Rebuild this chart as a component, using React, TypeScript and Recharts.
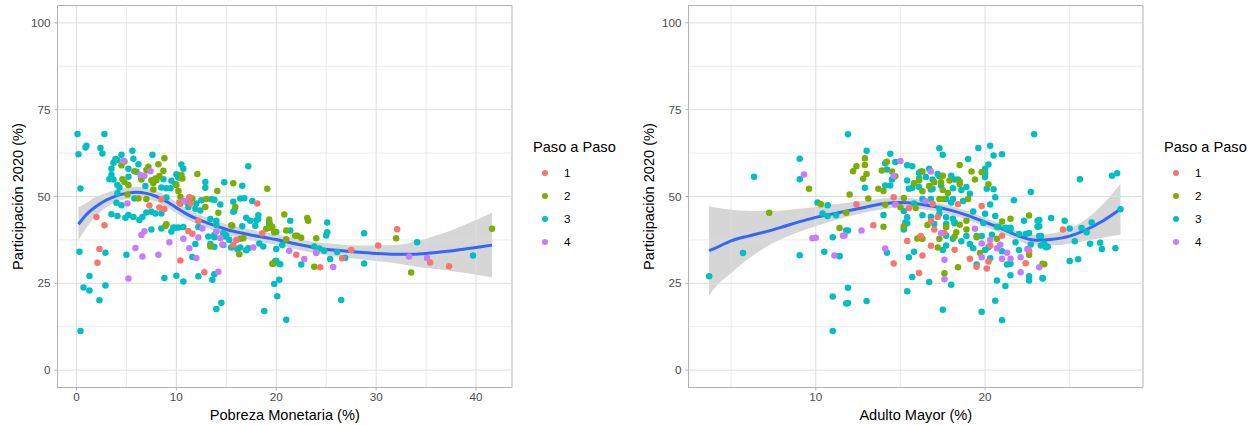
import { Area, ComposedChart, Line, ReferenceArea, ReferenceLine, Scatter, XAxis, YAxis } from "recharts";

type Pair = [number, number];

const PASOS = ["1", "2", "3", "4"];
const PASO_COLORS = ["#F8766D", "#7CAE00", "#00BFC4", "#C77CFF"];
const DRAW_ORDER = [2, 1, 0, 3];

const yTicks = [0, 25, 50, 75, 100];
const yMinor = [12.5, 37.5, 62.5, 87.5];

const pobrezaTicks = [0, 10, 20, 30, 40];
const pobrezaMinor = [5, 15, 25, 35];
const adultoTicks = [10, 20];
const adultoMinor = [5, 15, 25];

// Pobreza Monetaria panel: [x, participacion]
const pobrezaPaso1: Pair[] = [
  [2.3, 34.9], [2.1, 30.9], [10.4, 31.6], [12.8, 28.2], [11.2, 40.1], [11.6, 39.3], [15.7, 36], [16, 37.5], [18.6, 39.4],
  [2, 44.1], [2.8, 41.7], [7.3, 47.4], [8.3, 46.8], [8.8, 46.4], [8.5, 49.2], [11.3, 49.8], [11.4, 47.9], [10.3, 48.3],
  [18.1, 48], [12.2, 43], [22, 33.2], [24.4, 29.6], [26.6, 32.2], [27.5, 34.6], [30.2, 35.9], [32.1, 40.6], [35.4, 31], [37.3, 29.9],
];
const pobrezaPaso2: Pair[] = [
  [8.8, 61], [8.2, 59.3], [7.2, 58.6], [7, 57.6], [8.7, 57.4], [5.8, 57.3], [4.8, 60.1], [4.5, 59], [8.3, 55.9], [7.9, 55.2],
  [7.5, 54.7], [8, 54.7], [7.7, 53.9], [6.5, 54.9], [4.6, 55], [4.8, 54.2], [5.2, 53.3], [10.5, 56.2], [10.6, 55.2], [12.1, 56.5],
  [10, 53.3], [10.2, 51.6], [14.1, 51.6], [15.7, 53.8], [19.1, 52.2], [7.7, 52], [5.1, 50.6], [6.2, 49.4], [7, 49.3], [11.6, 49.4],
  [13, 49.3], [12.9, 47], [15.9, 47], [14.2, 45.3], [9, 42], [8.9, 41.5], [19.3, 43.4], [15.5, 41.7], [19.4, 41.7], [13.4, 35.6],
  [16.7, 38], [16.3, 33.4], [19.6, 30.6], [19, 40.7], [19.4, 41], [19.8, 39.7], [20.8, 44.8], [23.1, 43.8], [23.2, 43], [19.6, 41.3],
  [19.9, 39.8], [21.9, 38.7], [22.1, 38.7], [22.5, 38.1], [24, 38], [21, 37.7], [19.7, 30.6], [23.8, 29.8], [24, 33.7], [32, 38],
  [33.5, 28.1], [41.6, 40.7], [15.6, 41.6], [10.4, 49.9], [10.4, 48], [21, 40.2], [16.4, 37.8],
];
const pobrezaPaso3: Pair[] = [
  [0.1, 68], [2.8, 68], [0.2, 62.2], [0.9, 64.1], [1, 64.6], [2.4, 64], [2.6, 62.4], [4.5, 62], [5.6, 63.2], [7.6, 62],
  [3.9, 60.8], [4.1, 60.5], [3.7, 59.7], [5.7, 60.9], [6.2, 59.3], [10.5, 59.2], [10.7, 58], [3.5, 58], [5.2, 58], [17.2, 58.7],
  [0.4, 52.3], [3.5, 56.2], [3.3, 55], [3.7, 54.9], [4.3, 52.6], [4.1, 53.3], [5.2, 55.7], [6, 57.1], [6.5, 55.2], [6.9, 53],
  [8.7, 55], [9.5, 54.5], [10, 56.4], [10.2, 55.5], [9.9, 53.6], [8.5, 52.6], [9, 52.4], [9.4, 52.4], [12.9, 54.2], [12.9, 52.5],
  [14.8, 54.1], [16.6, 53.1], [15.7, 48.5], [16.4, 49.4], [16.8, 49.5], [17.6, 48.7], [15.8, 45.9], [15.7, 45.6], [14.4, 47.7], [13.5, 49.2],
  [13.8, 49.1], [12.5, 48.9], [12, 48], [11.9, 46.5], [12.4, 46], [11.2, 47], [11, 48.5], [4.1, 50.9], [9, 49.7], [5.8, 49.4],
  [4, 48.2], [4.5, 47.5], [3.5, 44.9], [4.1, 44.4], [4.9, 43.9], [5.2, 44.7], [5.7, 44.1], [6.3, 43.2], [6.6, 44.1], [7, 45.4],
  [7.5, 45.6], [7.9, 45.1], [8.5, 45.1], [13.4, 43.5], [14, 43], [18.2, 44.6], [17, 43.9], [17.4, 43], [18, 43.1], [16.6, 41.4],
  [9.7, 41.1], [10.2, 41.1], [10.7, 41.2], [12.2, 41.2], [7.5, 40.5], [0.3, 34.1], [2.9, 33.8], [5, 33.2], [8.5, 40.8], [9.5, 39.9],
  [9.9, 41], [13.2, 38.5], [13.4, 36.3], [13.8, 38.9], [13.8, 38.3], [13.8, 35.5], [14.7, 36], [14.9, 38.5], [15.3, 37.5], [15.5, 35.3],
  [16.1, 34.9], [16.4, 35.3], [17, 34.5], [17.2, 35.1], [18.3, 36.5], [18.7, 35.6], [20, 34.9], [11.6, 32.6], [11.9, 36.3], [8.8, 26.5],
  [10, 27.2], [10.7, 25.5], [12.2, 27], [13.8, 27.6], [13.6, 26], [14, 17.6], [14.5, 19.4], [18.8, 17], [0.4, 11.3], [1.3, 27.1],
  [0.7, 23.8], [1.3, 22.9], [2.9, 24.4], [2.3, 20.1], [20, 31.4], [20.3, 30.6], [19.8, 24.8], [20.3, 26], [20.1, 21.3], [21.4, 43],
  [21.4, 40.2], [20, 39.8], [25.1, 42.5], [25.1, 39.7], [25, 38.8], [28.8, 39.4], [34.1, 36.8], [39.7, 33], [28.8, 30.7], [20.6, 36],
  [23.8, 35.6], [24.3, 35], [24.8, 34.4], [26.1, 34], [25.4, 32], [26.9, 32.3], [22.5, 30.4], [20.4, 30.5], [19.9, 31.4], [21, 14.5],
  [26.5, 20.2], [14, 41.8], [17.9, 41.6], [19.3, 42.6], [19.3, 42], [14.7, 39.5], [15, 38.8], [18.2, 43.5],
];
const pobrezaPaso4: Pair[] = [
  [4.7, 60.3], [6.4, 56.2], [6.8, 56], [7.4, 57.3], [5.1, 48], [10.8, 48.7], [6.8, 40], [12.6, 40.8], [6.5, 38.9], [5.9, 35.2],
  [6.6, 32.7], [8.2, 33.2], [5.2, 26.4], [9.3, 36.8], [10.7, 37.8], [11.3, 35.1], [12, 32.3], [12.2, 38.2], [14, 39.9], [14.4, 38],
  [14.6, 36.2], [14.2, 28.3], [17.7, 35.3], [21.3, 34.4], [22.8, 32], [24, 33.8], [25.7, 29.7], [33.3, 32.7], [35.1, 32.3],
];

const pobrezaCurveX = [0.2, 1, 2, 3, 4, 5, 6, 7, 8, 9, 10, 11, 12, 13, 14, 15, 16, 17, 18, 19, 20, 22, 24, 26, 28, 30, 32, 34, 36, 38, 40, 41.6];
const pobrezaFit = [42, 44.8, 47.2, 49, 50.2, 50.9, 51.2, 50.9, 50, 48.6, 46.8, 45, 43.6, 42.5, 41.5, 40.5, 39.8, 39.2, 38.6, 38.1, 37.6, 36.3, 35.2, 34.5, 34, 33.6, 33.4, 33.4, 33.9, 34.5, 35.3, 36];
const pobrezaLo = [37.4, 41, 44.5, 46.9, 48.4, 49.3, 49.6, 49.3, 48.5, 47, 45.2, 43.5, 42.1, 41, 39.9, 39, 38.3, 37.7, 37.1, 36.6, 36.1, 34.8, 33.6, 32.7, 32.1, 31.4, 30.8, 29.8, 29.1, 28.3, 27.5, 26.7];
const pobrezaHi = [46.8, 48.2, 49.9, 51, 52, 52.5, 52.8, 52.5, 51.6, 50.2, 48.4, 46.6, 45.1, 44, 43, 42, 41.3, 40.7, 40.1, 39.6, 39.1, 37.8, 36.8, 36.3, 35.9, 35.9, 36, 37.1, 38.8, 40.8, 43.2, 45.4];

// Adulto Mayor panel
const adultoPaso1: Pair[] = [
  [12.4, 47.8], [14.6, 49.8], [15.5, 46.6], [16.9, 47.9], [18.4, 47.8], [19.8, 47.3], [17.2, 44.1], [16.8, 42.9], [13.4, 41.7], [17, 40.5],
  [15.4, 37.2], [16.2, 38.6], [16.8, 35.8], [16.3, 33], [14.6, 30.7], [16.1, 28], [18.2, 34.7], [19.1, 32.1], [19.5, 29.8], [20.1, 29.3],
  [20.2, 31.3], [20.3, 35.9], [22.4, 30.8], [17.6, 39.5], [22.6, 34.4], [21, 38.7], [24.6, 40.5],
];
const adultoPaso2: Pair[] = [
  [12.9, 61], [12.9, 59.1], [12.4, 58.7], [12.2, 57.3], [13, 56.5], [12.8, 55.1], [14.2, 60], [13.9, 57.5], [14.5, 57.2], [14.7, 55.8],
  [13.7, 52.2], [14, 51.6], [12, 50.6], [13.1, 49.4], [11.8, 45.3], [14.1, 47.6], [15.2, 49.6], [16.3, 57.2], [15.8, 53.8], [16.1, 54.6],
  [16.7, 53], [16.3, 51.5], [17, 54.1], [17.4, 54.1], [17.5, 56], [17.9, 54.6], [18.5, 59.1], [19.2, 57.2], [19.8, 57], [19.4, 54.9],
  [18.5, 54.3], [18.5, 53.6], [17.5, 51.9], [17.8, 51], [17.3, 49.3], [17.5, 49.3], [19, 49.3], [20.2, 53.5], [21.5, 43.6], [21, 42.8],
  [22.6, 44.5], [14, 41.3], [15.2, 41.4], [16.6, 41.8], [17.7, 41.2], [18.5, 41.9], [18.9, 43], [15.9, 46.7], [15, 46.9], [16, 37.9],
  [16.3, 37.8], [17.2, 35.3], [17.3, 37.8], [17.6, 27.9], [18.4, 29.6], [19.7, 33.7], [20.7, 37.8], [22.6, 33.2], [23.5, 30.5], [19.5, 38.3],
  [18.3, 39.7], [18.2, 38.5], [18.9, 40.5], [9.6, 52.2], [10.3, 47.8], [7.25, 45.3], [11.4, 40.9], [23.4, 30.6],
];
const adultoPaso3: Pair[] = [
  [11.9, 67.9], [22.9, 67.9], [13, 63.2], [14.4, 62.3], [17.3, 63.9], [17.5, 62], [19.6, 64], [20.3, 64.6], [20.5, 61.8], [21, 62.2],
  [19, 60.8], [20.2, 59.2], [15.4, 59], [15.7, 58.7], [14.7, 59.9], [14.1, 59.6], [14.2, 57.8], [16.7, 58], [16.2, 57.2], [16.1, 56.8],
  [20, 58], [20, 56.7], [20, 55.6], [16.5, 55.6], [16.1, 55.2], [16.9, 54.9], [17.2, 56.5], [17.3, 55.8], [18, 56], [18.2, 54.9],
  [18.4, 54.9], [14.5, 54.9], [14.4, 53.2], [14.1, 53.2], [15.4, 54.6], [12.9, 52.5], [15.5, 52.2], [15.7, 52.5], [16.1, 52.7], [16.8, 52],
  [16.9, 52.2], [17.4, 53.2], [18.1, 52.4], [18.6, 51.9], [18.9, 52.7], [19.1, 50.8], [20.1, 52.2], [20.5, 52.1], [20.6, 49.8], [21.7, 48.9],
  [22.7, 51.3], [20.3, 47.7], [16.3, 49.3], [16.8, 49.3], [17.7, 49.3], [18.1, 49.3], [18.7, 48.7], [18, 48.3], [17.3, 46.5], [15.8, 48],
  [15.2, 45.8], [14, 44.7], [15.4, 44], [15.3, 42.6], [16.3, 44.6], [16.8, 44.2], [17.3, 45], [17.7, 44], [18.1, 43.6], [18.2, 42.6],
  [17.7, 42.1], [19.3, 45.7], [20, 45], [20.6, 44.4], [22.3, 43], [23.1, 43], [23.2, 41.4], [21.2, 41], [21.5, 41], [19.9, 42.4],
  [20.7, 41.3], [11.8, 40.2], [11.4, 32.8], [14.2, 33.8], [15.8, 34.1], [15.5, 32.5], [15.7, 26.8], [16.7, 25.4], [18, 24.6], [15.4, 22.7],
  [11.9, 23.7], [11.8, 19.2], [13, 19.9], [17.5, 17.4], [19.8, 16.8], [21, 14.4], [20.6, 20], [21.2, 24.2], [20.7, 25.8], [22.6, 25.8],
  [22.6, 27], [23.4, 26.4], [21.5, 27.3], [21.3, 30.4], [21.5, 30.6], [20.3, 32.2], [19.5, 30.4], [21, 34.2], [22, 34.6], [19.3, 35.1],
  [19.1, 36.3], [18.6, 37.1], [18.9, 38.6], [19.5, 38.6], [19.8, 38.6], [17.7, 35.9], [17.5, 34.6], [17.7, 38.7], [18.1, 37.8], [15.2, 40.5],
  [15.4, 42.3], [17, 42.1], [17.7, 41.3], [18.2, 42.3], [20, 34.6], [20.2, 35.4], [20.4, 39], [20.8, 41.2], [21.3, 40.7], [21.5, 40.5],
  [22, 39.2], [22.4, 39.2], [22.6, 39.5], [23.2, 38.6], [23.6, 35.4], [23.1, 41.3], [21.8, 36.8], [22.7, 36.2], [23.3, 35.9],
  [9.05, 60.9], [9.05, 55], [6.35, 55.7], [10.1, 48.3], [10.7, 47.5], [10.4, 45.1], [10.7, 44.4], [11.2, 44.6], [11.9, 40.2], [11, 38.3],
  [10.5, 34.1], [9.05, 33.1], [5.7, 33.7], [11.4, 32.9], [3.7, 27], [11, 21.2], [11.9, 19.3], [11, 11.3],
  [25.6, 55], [27.5, 56], [27.8, 56.7], [28, 46.3], [23.9, 43.8], [24.7, 43], [26.3, 42.5], [25, 40.8], [25.7, 40.9], [26, 39.7],
  [25.3, 37.1], [26.2, 36.4], [26.8, 36.7], [26.9, 34.9], [27.7, 35.1], [25, 31.4], [25.5, 31.9], [23.7, 35.5], [23.5, 36.4], [23.3, 38.6],
  [23.4, 26.5], [23.2, 43.2],
];
const adultoPaso4: Pair[] = [
  [15, 60.2], [16.8, 57.2], [14.6, 56], [16.5, 48.7], [12.7, 40.2], [14.7, 47.7], [19.4, 40.7], [11.6, 38.7], [14.1, 35], [17.6, 31.8],
  [17.6, 26.2], [19.8, 32.5], [19.8, 36.5], [20.3, 37.5], [20.7, 35.1], [20.9, 36.1], [21.3, 33.8], [21, 32.1], [21.5, 32.1], [22.1, 32.5],
  [22.1, 28.2], [23.2, 29.6], [22.5, 34.9], [17.4, 39.4], [9.3, 56.3], [9.8, 38], [10, 38.1], [11.1, 33], [11.7, 38.8],
];

const adultoCurveX = [3.7, 4, 5, 6, 7, 8, 9, 10, 11, 12, 13, 14, 15, 16, 17, 18, 19, 20, 21, 22, 23, 24, 25, 26, 27, 28];
const adultoFit = [34.4, 35, 37.2, 38.6, 39.8, 41.2, 42.7, 44, 45, 46, 47, 47.9, 48.3, 47.9, 47.1, 46, 44.5, 42.6, 40.7, 38.6, 37.4, 37.7, 38.6, 40.5, 43.1, 46.4];
const adultoLo = [21.5, 23.5, 28, 32, 35.3, 37.8, 39.8, 41.4, 43, 44.3, 45.5, 46.3, 46.8, 46.5, 45.8, 44.7, 43.2, 41.3, 39.4, 37.2, 35.9, 35.9, 36.4, 37.3, 38.2, 39];
const adultoHi = [47.2, 46.9, 46.2, 45.9, 45.8, 46, 46.5, 47, 47.7, 48.3, 48.8, 49.4, 49.8, 49.3, 48.4, 47.3, 45.8, 43.9, 42, 40, 38.9, 39.4, 40.8, 43.6, 48, 53.6];

const FONT = '"Liberation Sans", Arial, sans-serif';
const GRID = "#dedede";
const BORDER = "#b3b3b3";
const Y_DOMAIN: Pair = [-5, 105];

type PanelProps = {
  left: number;
  xLabel: string;
  xDomain: Pair;
  xTicks: number[];
  xMinor: number[];
  groups: Pair[][];
  curveX: number[];
  fit: number[];
  lo: number[];
  hi: number[];
};

function Panel({ left, xLabel, xDomain, xTicks, xMinor, groups, curveX, fit, lo, hi }: PanelProps) {
  const curve = curveX.map((x, i) => ({ x, fit: fit[i], band: [lo[i], hi[i]] }));
  const tick = { fill: "#4d4d4d", fontSize: 11.7, fontFamily: FONT };
  const axisLine = { stroke: BORDER };

  return (
    <div style={{ position: "absolute", left, top: 0 }}>
      <ComposedChart width={620} height={425} data={curve} margin={{ top: 5.5, right: 108, bottom: 0, left: 0 }}>
        {yMinor.map((v) => (
          <ReferenceLine key={`ym${v}`} y={v} stroke={GRID} strokeWidth={0.6} />
        ))}
        {yTicks.map((v) => (
          <ReferenceLine key={`y${v}`} y={v} stroke={GRID} strokeWidth={1} />
        ))}
        {xMinor.map((v) => (
          <ReferenceLine key={`xm${v}`} x={v} stroke={GRID} strokeWidth={0.6} />
        ))}
        {xTicks.map((v) => (
          <ReferenceLine key={`x${v}`} x={v} stroke={GRID} strokeWidth={1} />
        ))}
        <XAxis
          dataKey="x"
          type="number"
          scale="linear"
          domain={xDomain}
          ticks={xTicks}
          height={37.5}
          tick={tick}
          tickSize={3}
          tickLine={axisLine}
          axisLine={axisLine}
          label={{ value: xLabel, position: "insideBottom", offset: 5.5, fill: "#000", fontSize: 14.6, fontFamily: FONT }}
        />
        <YAxis
          type="number"
          domain={Y_DOMAIN}
          ticks={yTicks}
          width={57.5}
          tick={tick}
          tickSize={3}
          tickMargin={4}
          tickLine={axisLine}
          axisLine={axisLine}
          label={{
            value: "Participación 2020 (%)",
            angle: -90,
            position: "insideLeft",
            offset: 18,
            style: { textAnchor: "middle" },
            fill: "#000",
            fontSize: 14.6,
            fontFamily: FONT,
          }}
        />
        {DRAW_ORDER.map((g) => (
          <Scatter
            key={PASOS[g]}
            name={PASOS[g]}
            data={groups[g].map(([x, y]) => ({ x, y }))}
            dataKey="y"
            isAnimationActive={false}
            shape={(p: any) => <circle cx={p.cx} cy={p.cy} r={3.25} fill={PASO_COLORS[g]} />}
          />
        ))}
        <Area dataKey="band" type="monotone" stroke="none" fill="#999999" fillOpacity={0.4} dot={false} activeDot={false} isAnimationActive={false} />
        <Line dataKey="fit" type="monotone" stroke="#3366FF" strokeWidth={3} dot={false} activeDot={false} isAnimationActive={false} />
        <ReferenceArea x1={xDomain[0]} x2={xDomain[1]} y1={Y_DOMAIN[0]} y2={Y_DOMAIN[1]} fill="none" stroke={BORDER} strokeWidth={1} />
      </ComposedChart>
      <div style={{ position: "absolute", left: 533, top: 139, fontFamily: FONT, color: "#000" }}>
        <div style={{ fontSize: 14.6, lineHeight: "17px" }}>Paso a Paso</div>
        {PASOS.map((p, i) => (
          <div key={p} style={{ position: "absolute", left: 0, top: 25 + i * 23, height: 17, width: 60, fontSize: 11.7, lineHeight: "17px" }}>
            <span style={{ position: "absolute", left: 8.5, top: 5.5, width: 6.5, height: 6.5, borderRadius: 3.25, background: PASO_COLORS[i] }} />
            <span style={{ position: "absolute", left: 31 }}>{p}</span>
          </div>
        ))}
      </div>
    </div>
  );
}

export default function App() {
  return (
    <div style={{ position: "absolute", left: 0, top: 0, width: 1255, height: 425, background: "#fff", overflow: "hidden" }}>
      <Panel
        left={0}
        xLabel="Pobreza Monetaria (%)"
        xDomain={[-1.9, 43.6]}
        xTicks={pobrezaTicks}
        xMinor={pobrezaMinor}
        groups={[pobrezaPaso1, pobrezaPaso2, pobrezaPaso3, pobrezaPaso4]}
        curveX={pobrezaCurveX}
        fit={pobrezaFit}
        lo={pobrezaLo}
        hi={pobrezaHi}
      />
      <Panel
        left={631}
        xLabel="Adulto Mayor (%)"
        xDomain={[2.48, 29.33]}
        xTicks={adultoTicks}
        xMinor={adultoMinor}
        groups={[adultoPaso1, adultoPaso2, adultoPaso3, adultoPaso4]}
        curveX={adultoCurveX}
        fit={adultoFit}
        lo={adultoLo}
        hi={adultoHi}
      />
    </div>
  );
}
